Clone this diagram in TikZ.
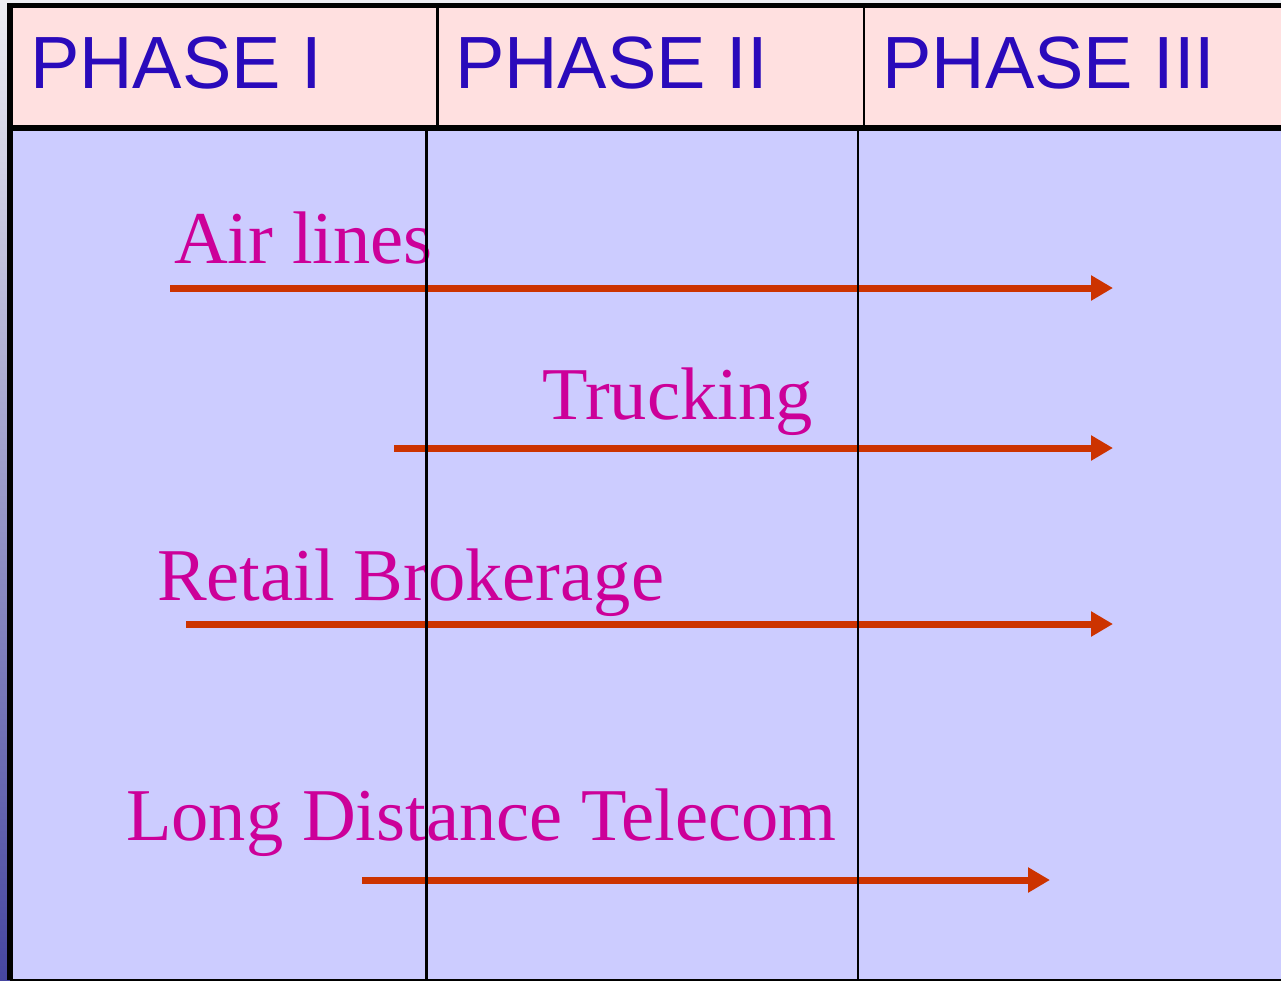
\documentclass[tikz,border=0pt]{standalone}
\usepackage{fontspec}
\setmainfont{Liberation Serif}
\newfontfamily\hdrfont{Liberation Sans}
\usetikzlibrary{arrows.meta}
\definecolor{hdrfill}{HTML}{FFE0E0}
\definecolor{bodyfill}{HTML}{CCCCFF}
\definecolor{hdrtext}{HTML}{2A0ABB}
\definecolor{lbltext}{HTML}{CC0099}
\definecolor{arrcol}{HTML}{CC3300}
\definecolor{bgtop}{HTML}{EDEDF2}
\definecolor{bgbot}{HTML}{4646A0}
\tikzset{
  hdr/.style={anchor=base west, inner sep=0pt, text=hdrtext, font=\hdrfont\fontsize{74}{74}\selectfont},
  lbl/.style={anchor=base west, inner sep=0pt, text=lbltext, font=\fontsize{74.5}{74.5}\selectfont},
  arr/.style={draw=arrcol, line width=7pt, -{Triangle[length=22pt,width=24pt]}},
  frame/.style={draw=black, line width=5.5pt},
  divider/.style={draw=black, line width=2.5pt}
}
\begin{document}
\begin{tikzpicture}[x=1pt,y=-1pt]
\useasboundingbox (0,0) rectangle (1281,980);
% background gradient strip
\shade[top color=bgtop, bottom color=bgbot] (0,0) rectangle (1281,980);
% fills
\fill[hdrfill] (10,5.5) rectangle (1281,128);
\fill[bodyfill] (10,128) rectangle (1281,980);
% header texts
\node[hdr] (p1) at (30,88) {PHASE I};
\node[hdr] (p2) at (455,88) {PHASE II};
\node[hdr] (p3) at (882,88) {PHASE III};
% labels
\node[lbl] (air) at (174,263) {Air lines};
\node[lbl] (truck) at (542,419) {Trucking};
\node[lbl] (retail) at (157,600) {Retail Brokerage};
\node[lbl] (tele) at (126,840) {Long Distance Telecom};
% arrows
\coordinate (a1s) at (170,288);  \coordinate (a1e) at (1113,288);
\coordinate (a2s) at (394,448);  \coordinate (a2e) at (1113,448);
\coordinate (a3s) at (186,624);  \coordinate (a3e) at (1113,624);
\coordinate (a4s) at (362,880);  \coordinate (a4e) at (1050,880);
\draw[arr] (a1s) -- (a1e);
\draw[arr] (a2s) -- (a2e);
\draw[arr] (a3s) -- (a3e);
\draw[arr] (a4s) -- (a4e);
% frame
\coordinate (tl) at (7.3,5.5); \coordinate (tr) at (1281,5.5);
\coordinate (hl) at (7.3,128); \coordinate (hr) at (1281,128);
\coordinate (lt) at (10,3); \coordinate (lb) at (10,980);
\coordinate (bl) at (10,979.5); \coordinate (br) at (1281,979.5);
\draw[frame] (tl) -- (tr);
\draw[draw=black, line width=6pt] (hl) -- (hr);
\draw[frame] (lt) -- (lb);
\draw[draw=black, line width=2pt] (bl) -- (br);
% dividers
\coordinate (h1t) at (437.3,5.5); \coordinate (h1b) at (437.3,128);
\coordinate (h2t) at (864,5.5);   \coordinate (h2b) at (864,128);
\coordinate (d1t) at (426.3,128); \coordinate (d1b) at (426.3,980);
\coordinate (d2t) at (858,128);   \coordinate (d2b) at (858,980);
\draw[divider] (h1t) -- (h1b);
\draw[divider] (h2t) -- (h2b);
\draw[divider] (d1t) -- (d1b);
\draw[divider] (d2t) -- (d2b);
\end{tikzpicture}
\end{document}
